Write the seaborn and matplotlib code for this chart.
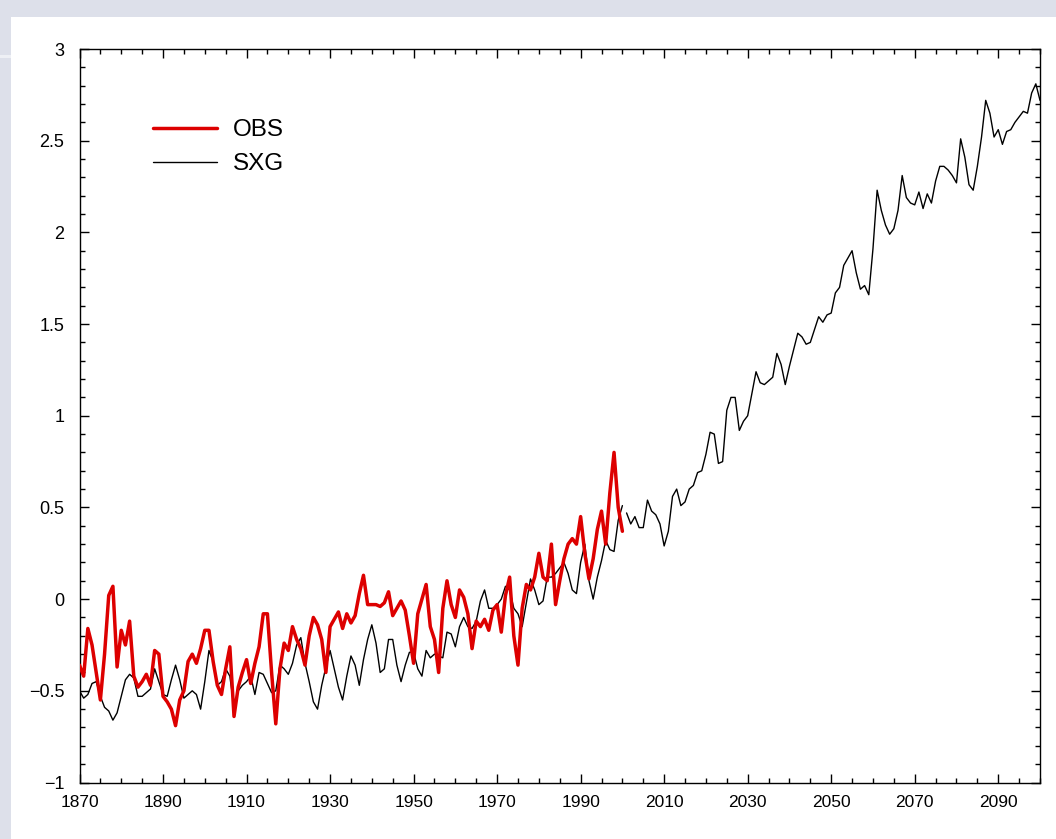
import numpy as np
import pandas as pd
import matplotlib
matplotlib.use("Agg")
import matplotlib.pyplot as plt
from matplotlib.patches import Rectangle
from matplotlib.lines import Line2D
from matplotlib.ticker import MultipleLocator, FixedLocator
import seaborn as sns

# ---------------- data ----------------
obs_years = list(range(1870, 2001))
obs_values = [
    -0.36, -0.42, -0.16, -0.25, -0.40, -0.55, -0.30, 0.02, 0.07, -0.37,   # 1870-1879
    -0.17, -0.25, -0.12, -0.42, -0.48, -0.45, -0.41, -0.47, -0.28, -0.30,  # 1880-1889
    -0.53, -0.56, -0.60, -0.69, -0.55, -0.50, -0.34, -0.30, -0.35, -0.27,  # 1890-1899
    -0.17, -0.17, -0.34, -0.47, -0.52, -0.38, -0.26, -0.64, -0.48, -0.40,  # 1900-1909
    -0.33, -0.46, -0.35, -0.26, -0.08, -0.08, -0.40, -0.68, -0.38, -0.24,  # 1910-1919
    -0.28, -0.15, -0.22, -0.27, -0.36, -0.20, -0.10, -0.14, -0.22, -0.40,  # 1920-1929
    -0.15, -0.11, -0.07, -0.16, -0.08, -0.13, -0.09, 0.03, 0.13, -0.03,    # 1930-1939
    -0.03, -0.03, -0.04, -0.02, 0.04, -0.09, -0.05, -0.01, -0.06, -0.20,   # 1940-1949
    -0.35, -0.08, 0.00, 0.08, -0.15, -0.22, -0.40, -0.05, 0.10, -0.03,     # 1950-1959
    -0.10, 0.05, 0.01, -0.08, -0.27, -0.12, -0.15, -0.11, -0.17, -0.06,    # 1960-1969
    -0.03, -0.18, 0.02, 0.12, -0.20, -0.36, -0.05, 0.08, 0.05, 0.12,       # 1970-1979
    0.25, 0.12, 0.10, 0.30, -0.03, 0.10, 0.22, 0.30, 0.33, 0.30,           # 1980-1989
    0.45, 0.25, 0.11, 0.22, 0.38, 0.48, 0.30, 0.58, 0.80, 0.50,            # 1990-1999
    0.37,                                                                  # 2000
]

sxg_hist_years = list(range(1870, 2001))
sxg_hist_values = [
    -0.50, -0.54, -0.52, -0.46, -0.45, -0.53, -0.59, -0.61, -0.66, -0.62,  # 1870-1879
    -0.53, -0.44, -0.41, -0.43, -0.53, -0.53, -0.51, -0.49, -0.38, -0.45,  # 1880-1889
    -0.52, -0.53, -0.44, -0.36, -0.44, -0.54, -0.52, -0.50, -0.52, -0.60,  # 1890-1899
    -0.45, -0.28, -0.34, -0.47, -0.45, -0.38, -0.42, -0.59, -0.50, -0.47,  # 1900-1909
    -0.45, -0.42, -0.52, -0.40, -0.41, -0.46, -0.51, -0.50, -0.36, -0.38,  # 1910-1919
    -0.41, -0.35, -0.25, -0.21, -0.35, -0.45, -0.56, -0.60, -0.47, -0.37,  # 1920-1929
    -0.28, -0.38, -0.48, -0.55, -0.42, -0.31, -0.36, -0.47, -0.33, -0.22,  # 1930-1939
    -0.14, -0.24, -0.40, -0.38, -0.22, -0.22, -0.36, -0.45, -0.36, -0.29,  # 1940-1949
    -0.29, -0.38, -0.42, -0.28, -0.32, -0.30, -0.31, -0.32, -0.18, -0.19,  # 1950-1959
    -0.26, -0.15, -0.10, -0.15, -0.16, -0.12, -0.01, 0.05, -0.05, -0.05,   # 1960-1969
    -0.03, 0.00, 0.07, 0.05, -0.05, -0.08, -0.15, -0.02, 0.11, 0.05,       # 1970-1979
    -0.03, -0.01, 0.12, 0.12, 0.14, 0.17, 0.20, 0.14, 0.05, 0.03,          # 1980-1989
    0.20, 0.30, 0.10, 0.00, 0.12, 0.21, 0.32, 0.27, 0.26, 0.43,            # 1990-1999
    0.51,                                                                  # 2000
]

sxg_future_years = list(range(2001, 2101))
sxg_future_values = [
    0.47, 0.41, 0.45, 0.39, 0.39, 0.54, 0.48, 0.46, 0.41, 0.29,   # 2001-2010
    0.37, 0.56, 0.60, 0.51, 0.53, 0.60, 0.62, 0.69, 0.70, 0.79,   # 2011-2020
    0.91, 0.90, 0.74, 0.75, 1.03, 1.10, 1.10, 0.92, 0.97, 1.00,   # 2021-2030
    1.12, 1.24, 1.18, 1.17, 1.19, 1.21, 1.34, 1.28, 1.17, 1.27,   # 2031-2040
    1.36, 1.45, 1.43, 1.39, 1.40, 1.47, 1.54, 1.51, 1.55, 1.56,   # 2041-2050
    1.67, 1.70, 1.82, 1.86, 1.90, 1.78, 1.69, 1.71, 1.66, 1.91,   # 2051-2060
    2.23, 2.12, 2.04, 1.99, 2.02, 2.12, 2.31, 2.19, 2.16, 2.15,   # 2061-2070
    2.22, 2.13, 2.21, 2.16, 2.28, 2.36, 2.36, 2.34, 2.31, 2.27,   # 2071-2080
    2.51, 2.41, 2.26, 2.23, 2.36, 2.52, 2.72, 2.65, 2.52, 2.56,   # 2081-2090
    2.48, 2.55, 2.56, 2.60, 2.63, 2.66, 2.65, 2.76, 2.81, 2.72,   # 2091-2100
]

series_labels = ["OBS", "SXG"]
x_tick_labels = [str(y) for y in range(1870, 2100, 20)]
y_tick_values = [-1, -0.5, 0, 0.5, 1, 1.5, 2, 2.5, 3]
y_tick_labels = ["\u22121", "\u22120.5", "0", "0.5", "1", "1.5", "2", "2.5", "3"]

obs_df = pd.DataFrame({"year": obs_years, "value": obs_values})
sxg_df = pd.concat([
    pd.DataFrame({"year": sxg_hist_years, "value": sxg_hist_values, "segment": "hist"}),
    pd.DataFrame({"year": sxg_future_years, "value": sxg_future_values, "segment": "future"}),
], ignore_index=True)

# ---------------- style ----------------
sns.set_style("ticks")
plt.rcParams["font.family"] = ["Liberation Sans", "DejaVu Sans"]
plt.rcParams["text.color"] = "black"

RED = "#dd0000"
LAV = "#dde0ea"

W, H = 1056, 839
fig = plt.figure(figsize=(W / 100, H / 100), dpi=100)
fig.patch.set_facecolor("white")

# screenshot-like light border
fig.patches.append(Rectangle((0, 1 - 17 / H), 1, 17 / H, transform=fig.transFigure,
                             facecolor=LAV, edgecolor="none", zorder=-10))
fig.patches.append(Rectangle((0, 0), 11 / W, 1, transform=fig.transFigure,
                             facecolor=LAV, edgecolor="none", zorder=-10))
fig.patches.append(Rectangle((0, 1 - 58 / H), 11 / W, 3 / H, transform=fig.transFigure,
                             facecolor="#eef0f5", edgecolor="none", zorder=-9))

L, R, T, B = 79.5, 1040, 49, 782.5
ax = fig.add_axes([L / W, 1 - B / H, (R - L) / W, (B - T) / H])
ax.set_facecolor("white")

sns.lineplot(data=sxg_df, x="year", y="value", units="segment", estimator=None,
             color="black", linewidth=1.0, ax=ax, legend=False, zorder=2)
sns.lineplot(data=obs_df, x="year", y="value", estimator=None,
             color=RED, linewidth=2.5, ax=ax, legend=False, zorder=3)

ax.set_xlim(1870, 2100)
ax.set_ylim(-1, 3)
ax.set_xlabel("")
ax.set_ylabel("")

ax.xaxis.set_major_locator(FixedLocator(list(range(1870, 2100, 20))))
ax.xaxis.set_minor_locator(MultipleLocator(5))
ax.set_xticklabels(x_tick_labels, fontsize=12.5)
ax.yaxis.set_major_locator(FixedLocator(y_tick_values))
ax.yaxis.set_minor_locator(MultipleLocator(0.1))
ax.set_yticklabels(y_tick_labels, fontsize=13)

ax.tick_params(which="both", direction="in", top=True, right=True, colors="black", width=1.0)
ax.tick_params(which="major", length=6.5)
ax.tick_params(which="minor", length=3.5)
ax.tick_params(axis="x", which="major", pad=9)
ax.tick_params(axis="y", which="major", pad=11)
for s in ax.spines.values():
    s.set_linewidth(1.0)
    s.set_color("black")

handles = [Line2D([], [], color=RED, linewidth=2.5),
           Line2D([], [], color="black", linewidth=1.0)]
leg = ax.legend(handles, series_labels, loc="upper left", bbox_to_anchor=(0.0765, 0.904),
                frameon=False, fontsize=17.5, handlelength=2.65, handletextpad=0.65,
                labelspacing=0.48, borderpad=0, borderaxespad=0, labelcolor="black")

fig.savefig("out.png", dpi=100)
